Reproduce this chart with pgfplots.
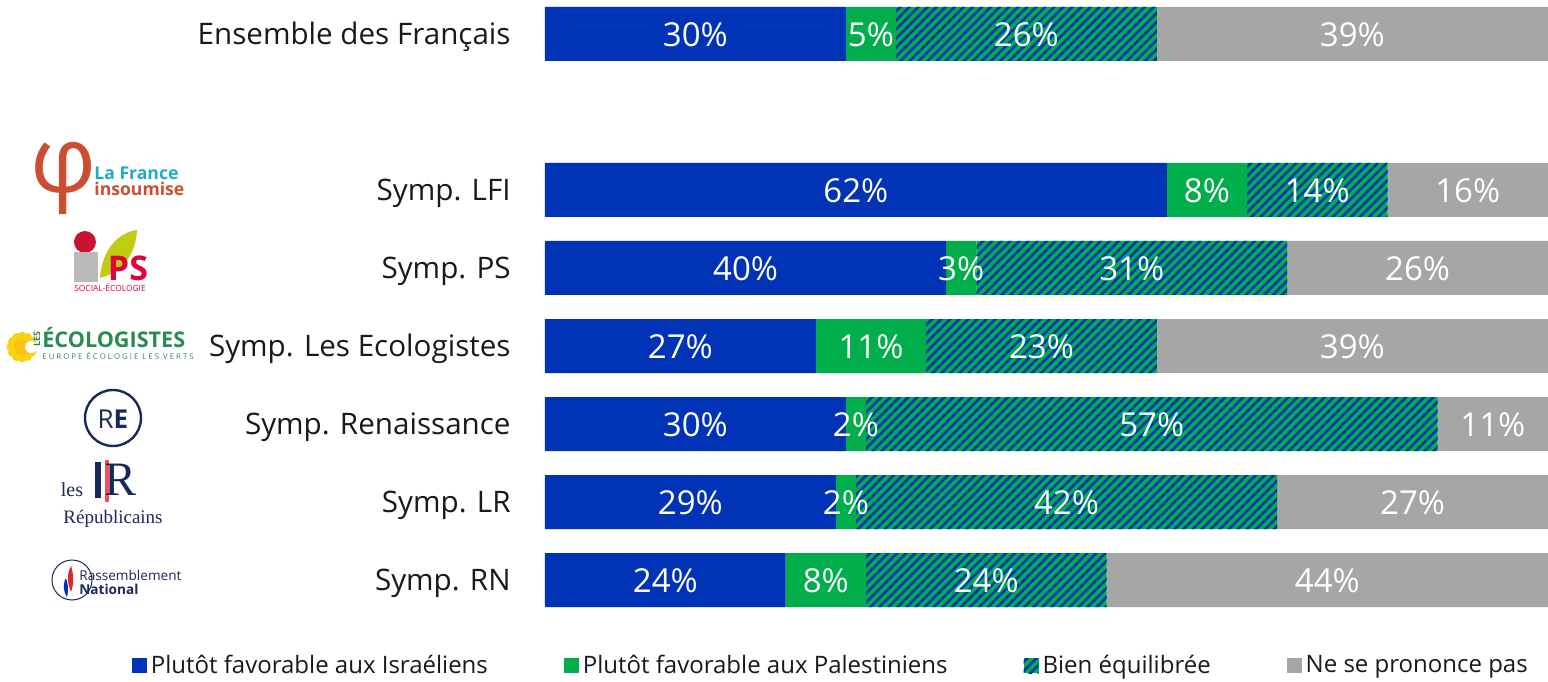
\documentclass[border=0pt]{standalone}
\usepackage{fontspec}
\setmainfont{Open Sans}
\newfontfamily\seriffont{Liberation Serif}
\usepackage{pgfplots}
\pgfplotsset{compat=1.18}
\usetikzlibrary{patterns.meta}
\definecolor{cblue}{RGB}{0,51,181}
\definecolor{cgreen}{RGB}{0,174,76}
\definecolor{cgray}{RGB}{166,166,166}
\definecolor{ctext}{RGB}{25,25,25}
\definecolor{lfired}{RGB}{204,78,48}
\definecolor{lficyan}{RGB}{32,170,200}
\definecolor{psgreen}{RGB}{190,205,20}
\definecolor{psred}{RGB}{200,20,50}
\definecolor{pspink}{RGB}{228,0,60}
\definecolor{ecogreen}{RGB}{40,140,80}
\definecolor{sunyellow}{RGB}{250,210,20}
\definecolor{renavy}{RGB}{25,40,90}
\definecolor{lrred}{RGB}{240,80,80}
\definecolor{rnred}{RGB}{220,40,40}
% value label: #1 = position in %, #2 = row index (0 = RN ... 7 = Ensemble), #3 = text
\newcommand{\vlab}[3]{\node[text=white, font=\fontsize{16.5}{18}\selectfont] at ({545+#1*10.03},{581-#2*78}) {#3};}
\begin{document}
\begin{tikzpicture}
\useasboundingbox (-272.5pt,-37pt) rectangle (501.5pt,303.5pt);
\begin{axis}[
  at={(0,0)}, anchor=south west,
  scale only axis, width=501.5pt, height=300pt,
  xbar stacked, bar width=27pt,
  xmin=0, xmax=100, ymin=-0.346, ymax=7.346,
  axis line style={draw=none},
  xtick=\empty,
  ytick={0,1,2,3,4,5,7},
  yticklabels={Symp. RN, Symp. LR, Symp. Renaissance, Symp. Les Ecologistes, Symp. PS, Symp. LFI, Ensemble des Français},
  major tick length=0pt,
  yticklabel style={anchor=east, inner sep=0pt, xshift=-17pt, yshift=-1.5pt, font=\fontsize{14.8}{16}\selectfont, text=ctext},
  legend style={at={(0.286,-0.098)}, anchor=center, draw=none, fill=none,
    legend columns=4, font=\fontsize{12}{14}\selectfont, text=ctext,
    /tikz/every even column/.append style={column sep=36pt}},
  legend image code/.code={\fill[#1] (0pt,-3.75pt) rectangle (7.5pt,3.75pt);},
]
\addplot[fill=cblue, draw=none] coordinates {(30,7) (62,5) (40,4) (27,3) (30,2) (29,1) (24,0)};
\addplot[fill=cgreen, draw=none] coordinates {(5,7) (8,5) (3,4) (11,3) (2,2) (2,1) (8,0)};
\addplot[draw=none, preaction={fill=cgreen}, pattern={Lines[angle=45,distance=3.2pt,line width=1.3pt]}, pattern color=cblue] coordinates {(26,7) (14,5) (31,4) (23,3) (57,2) (42,1) (24,0)};
\addplot[fill=cgray, draw=none] coordinates {(39,7) (16,5) (26,4) (39,3) (11,2) (27,1) (44,0)};
\legend{Plutôt favorable aux Israéliens, Plutôt favorable aux Palestiniens, Bien équilibrée, Ne se prononce pas}
\end{axis}
\begin{scope}[shift={(-272.5pt,303.5pt)}, x=0.5pt, y=-0.5pt]
% value labels
\vlab{15}{7}{30\%}\vlab{32.5}{7}{5\%}\vlab{48}{7}{26\%}\vlab{80.5}{7}{39\%}
\vlab{31}{5}{62\%}\vlab{66}{5}{8\%}\vlab{77}{5}{14\%}\vlab{92}{5}{16\%}
\vlab{20}{4}{40\%}\vlab{41.5}{4}{3\%}\vlab{58.5}{4}{31\%}\vlab{87}{4}{26\%}
\vlab{13.5}{3}{27\%}\vlab{32.5}{3}{11\%}\vlab{49.5}{3}{23\%}\vlab{80.5}{3}{39\%}
\vlab{15}{2}{30\%}\vlab{31}{2}{2\%}\vlab{60.5}{2}{57\%}\vlab{94.5}{2}{11\%}
\vlab{14.5}{1}{29\%}\vlab{30}{1}{2\%}\vlab{52}{1}{42\%}\vlab{86.5}{1}{27\%}
\vlab{12}{0}{24\%}\vlab{28}{0}{8\%}\vlab{44}{0}{24\%}\vlab{78}{0}{44\%}
% LFI
\node[text=lfired, font=\fontsize{46}{46}\selectfont] at (64,178) {φ};
\node[anchor=west, text=lficyan, font=\bfseries\fontsize{8.8}{9}\selectfont, inner sep=0pt] at (94,173) {La France};
\node[anchor=west, text=lfired, font=\bfseries\fontsize{8.8}{9}\selectfont, inner sep=0pt] at (94,189) {insoumise};
% PS
\fill[psgreen] (100,278) .. controls (102,248) and (120,232) .. (137,230) .. controls (136,255) and (122,272) .. cycle;
\fill[psred] (85,242) circle (11);
\fill[ctext!30] (74,252) rectangle (98,282);
\node[text=pspink, font=\bfseries\fontsize{17}{17}\selectfont] at (128,268) {PS};
\node[text=pspink, font=\fontsize{4.2}{5}\selectfont] at (110,288) {SOCIAL-ÉCOLOGIE};
% Ecologistes
\foreach \a in {0,30,...,330} {\fill[sunyellow] (22,347) ++(\a:11) circle (4.5);}
\fill[sunyellow!80!orange] (22,347) circle (8);
\fill[white] (31,347) circle (6);
\node[rotate=90, text=ecogreen, font=\bfseries\fontsize{4.5}{5}\selectfont] at (37,339) {LES};
\node[anchor=west, text=ecogreen, font=\bfseries\fontsize{10.8}{11}\selectfont, inner sep=0pt] at (42,338) {ÉCOLOGISTES};
\node[anchor=west, text=ecogreen, font=\fontsize{3.9}{5}\selectfont, inner sep=0pt] at (42,356) {E U R O P E \ É C O L O G I E \ L E S \ V E R T S};
% Renaissance
\draw[renavy, line width=1.2pt] (113,418) circle (28);
\node[text=renavy, font=\fontsize{13}{13}\selectfont] at (113,419) {R\textbf{E}};
% LR
\fill[renavy] (95,462) rectangle (101,498);
\fill[lrred] (105,460) rectangle (109,502);
\node[anchor=west, text=renavy, font=\seriffont\fontsize{24}{24}\selectfont, inner sep=0pt] at (104,480) {R};
\node[text=renavy, font=\seriffont\fontsize{10}{10}\selectfont] at (72,490) {les};
\node[text=renavy, font=\seriffont\fontsize{9.5}{10}\selectfont] at (113,519) {Républicains};
% RN
\draw[renavy, line width=0.5pt] (72,580) circle (20);
\fill[rnred] (71,566) .. controls (66,575) and (68,585) .. (71,592) .. controls (74,584) and (74,575) .. cycle;
\fill[cblue] (66,578) .. controls (62,585) and (64,593) .. (67,597) .. controls (69,590) and (68,584) .. cycle;
\node[anchor=west, text=renavy, font=\fontsize{6.8}{7}\selectfont, inner sep=0pt] at (79,575) {Rassemblement};
\node[anchor=west, text=renavy, font=\bfseries\fontsize{6.8}{7}\selectfont, inner sep=0pt] at (79,589) {National};
\end{scope}
\end{tikzpicture}
\end{document}
